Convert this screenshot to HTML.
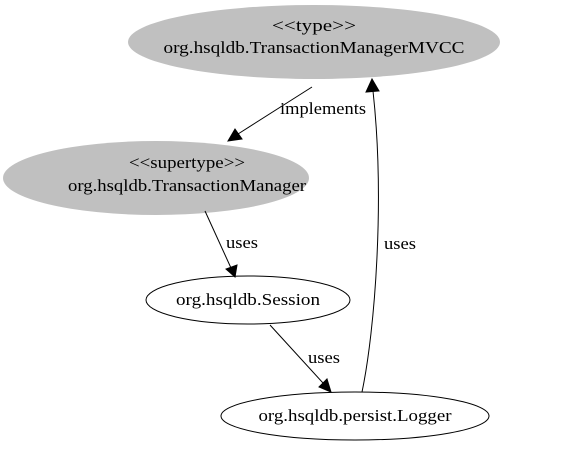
<!DOCTYPE html>
<html><head><meta charset="utf-8"><style>body{margin:0;background:#fff}</style></head><body>
<svg width="579" height="445" viewBox="0 0 579 445" xmlns="http://www.w3.org/2000/svg" font-family="'Liberation Serif', serif" font-size="17">
<ellipse cx="314" cy="42" rx="186" ry="37" fill="#c0c0c0"/>
<text x="314" y="31" text-anchor="middle" textLength="84" lengthAdjust="spacingAndGlyphs">&lt;&lt;type&gt;&gt;</text>
<text x="314" y="53" text-anchor="middle" textLength="301" lengthAdjust="spacingAndGlyphs">org.hsqldb.TransactionManagerMVCC</text>
<ellipse cx="156" cy="178" rx="153" ry="37" fill="#c0c0c0"/>
<text x="187" y="168" text-anchor="middle" textLength="116" lengthAdjust="spacingAndGlyphs">&lt;&lt;supertype&gt;&gt;</text>
<text x="187" y="191" text-anchor="middle" textLength="238" lengthAdjust="spacingAndGlyphs">org.hsqldb.TransactionManager</text>
<ellipse cx="248" cy="300" rx="102" ry="24" fill="#fff" stroke="#000"/>
<text x="248" y="305" text-anchor="middle" textLength="144" lengthAdjust="spacingAndGlyphs">org.hsqldb.Session</text>
<ellipse cx="355" cy="416" rx="134" ry="24" fill="#fff" stroke="#000"/>
<text x="355" y="421" text-anchor="middle" textLength="193" lengthAdjust="spacingAndGlyphs">org.hsqldb.persist.Logger</text>
<g stroke="#000" fill="none">
<path d="M312,87 L238,134"/>
<path d="M205,211 L231,268"/>
<path d="M270,325 L323,383"/>
<path d="M362,392 C375,330 385,200 373,91"/>
</g>
<g fill="#000" stroke="#000">
<polygon points="228,141 235,129 242,139"/>
<polygon points="235,277 226,269 237,265"/>
<polygon points="331,392 319,387 327,379"/>
<polygon points="372,79 366,92 379,91"/>
</g>
<text x="280" y="114" textLength="86" lengthAdjust="spacingAndGlyphs">implements</text>
<text x="226" y="248" textLength="32" lengthAdjust="spacingAndGlyphs">uses</text>
<text x="308" y="363" textLength="32" lengthAdjust="spacingAndGlyphs">uses</text>
<text x="384" y="249" textLength="32" lengthAdjust="spacingAndGlyphs">uses</text>
</svg>
</body></html>
